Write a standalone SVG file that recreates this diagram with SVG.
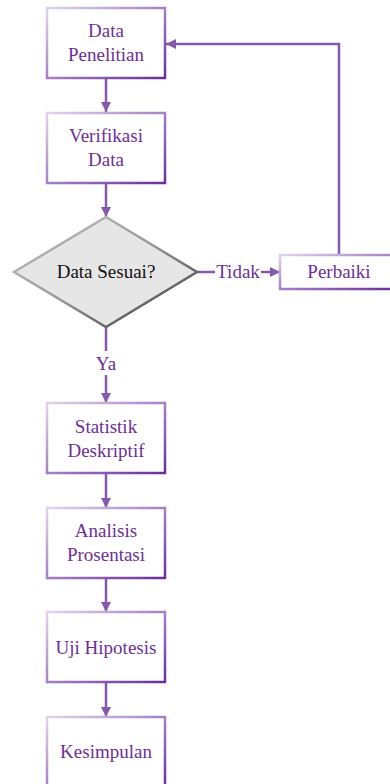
<svg xmlns="http://www.w3.org/2000/svg" width="390" height="784" viewBox="0 0 390 784">
<defs>
<linearGradient id="bg" x1="0" y1="0" x2="1" y2="1">
<stop offset="0" stop-color="#e0d4ec"/>
<stop offset="1" stop-color="#6a2e9c"/>
</linearGradient>
<linearGradient id="dg" x1="0" y1="0" x2="1" y2="1">
<stop offset="0" stop-color="#c4c4c4"/>
<stop offset="0.5" stop-color="#999"/>
<stop offset="1" stop-color="#333"/>
</linearGradient>
<marker id="ah" viewBox="0 0 10 10" refX="10" refY="5" markerWidth="10" markerHeight="10" markerUnits="userSpaceOnUse" orient="auto">
<path d="M0,0 L10,5 L0,10 Z" fill="#8559ad"/>
</marker>
</defs>
<style>
.box{fill:#fff;stroke:url(#bg);stroke-width:2.5}
text{font-family:"Liberation Serif","Times New Roman",serif;font-size:19px;fill:#6b2f98;text-anchor:middle}
.c{fill:none;stroke:#8559ad;stroke-width:2.5}
</style>
<g id="connectors">
<path class="c" d="M106,78 V112" marker-end="url(#ah)"/>
<path class="c" d="M106,183 V217" marker-end="url(#ah)"/>
<path class="c" d="M106,327 V351"/>
<path class="c" d="M106,375 V403" marker-end="url(#ah)"/>
<path class="c" d="M106,473 V508" marker-end="url(#ah)"/>
<path class="c" d="M106,578 V612" marker-end="url(#ah)"/>
<path class="c" d="M106,682 V717" marker-end="url(#ah)"/>
<path class="c" d="M197,272 H215"/>
<path class="c" d="M261,272 H280" marker-end="url(#ah)"/>
<path class="c" d="M339,255 V44 H166" marker-end="url(#ah)"/>
<text x="106" y="370">Ya</text>
<text x="238" y="278">Tidak</text>
</g>
<g id="data-penelitian">
<rect class="box" x="47" y="8" width="118" height="70"/>
<text x="106" y="37">Data</text>
<text x="106" y="61">Penelitian</text>
</g>
<g id="verifikasi-data">
<rect class="box" x="47" y="113" width="118" height="70"/>
<text x="106" y="142">Verifikasi</text>
<text x="106" y="166">Data</text>
</g>
<g id="data-sesuai">
<polygon points="106,217 197,272 106,327 14,272" fill="#e6e6e6" stroke="url(#dg)" stroke-width="2.5"/>
<text x="106" y="278" style="fill:#111">Data Sesuai?</text>
</g>
<g id="perbaiki">
<rect class="box" x="280" y="255" width="116" height="34"/>
<text x="339" y="278">Perbaiki</text>
</g>
<g id="statistik-deskriptif">
<rect class="box" x="47" y="403" width="118" height="70"/>
<text x="106" y="433">Statistik</text>
<text x="106" y="457">Deskriptif</text>
</g>
<g id="analisis-prosentasi">
<rect class="box" x="47" y="508" width="118" height="70"/>
<text x="106" y="537">Analisis</text>
<text x="106" y="561">Prosentasi</text>
</g>
<g id="uji-hipotesis">
<rect class="box" x="47" y="612" width="118" height="70"/>
<text x="106" y="654">Uji Hipotesis</text>
</g>
<g id="kesimpulan">
<rect class="box" x="47" y="717" width="118" height="70"/>
<text x="106" y="758">Kesimpulan</text>
</g>
</svg>
